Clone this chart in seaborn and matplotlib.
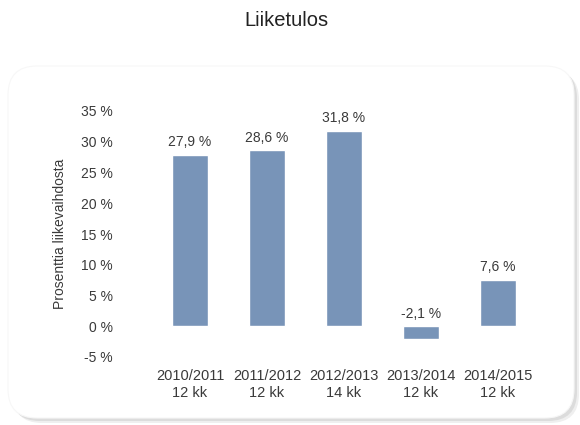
import matplotlib
matplotlib.use('Agg')
import matplotlib.pyplot as plt
import seaborn as sns
import pandas as pd
from matplotlib.patches import FancyBboxPatch

sns.set_style('white')
plt.rcParams['font.family'] = ['Liberation Sans', 'DejaVu Sans']

# data
kaudet = ['2010/2011\n12 kk', '2011/2012\n12 kk', '2012/2013\n14 kk',
          '2013/2014\n12 kk', '2014/2015\n12 kk']
liiketulos = [27.9, 28.6, 31.8, -2.1, 7.6]
arvot_teksti = ['27,9 %', '28,6 %', '31,8 %', '-2,1 %', '7,6 %']
y_ticks = [-5, 0, 5, 10, 15, 20, 25, 30, 35]

df = pd.DataFrame({'kausi': kaudet, 'arvo': liiketulos})

fig = plt.figure(figsize=(5.8, 4.25), dpi=100)
W, H = 580, 425

# panel with shadow
for dx, dy, c in [(5, 5, '#efefef'), (3, 3, '#dcdcdc')]:
    sh = FancyBboxPatch(((8 + dx) / W, 1 - (418 + dy) / H), 566 / W, 352 / H,
                        boxstyle='round,pad=0,rounding_size=0.05',
                        transform=fig.transFigure, facecolor=c, edgecolor='none',
                        mutation_aspect=W / H, zorder=-3)
    fig.patches.append(sh)
panel = FancyBboxPatch((8 / W, 1 - 418 / H), 566 / W, 352 / H,
                       boxstyle='round,pad=0,rounding_size=0.05',
                       transform=fig.transFigure, facecolor='white',
                       edgecolor='#f7f7f7', linewidth=0.8,
                       mutation_aspect=W / H, zorder=-2)
fig.patches.append(panel)

ax = fig.add_axes([151.5 / W, 1 - 357 / H, 385 / W, 246 / H])
ax.set_zorder(2)
ax.patch.set_alpha(0)

sns.barplot(data=df, x='kausi', y='arvo', color='#7894b8', width=0.47,
            saturation=1, ax=ax)

for i, (v, t) in enumerate(zip(liiketulos, arvot_teksti)):
    ax.annotate(t, (i, max(v, 0)), xytext=(0, 4), textcoords='offset points',
                ha='center', va='bottom', fontsize=10, color='#3a3a3a')

ax.set_ylim(-5, 35)
ax.set_xlim(-0.5, 4.5)
ax.set_yticks(y_ticks)
ax.set_yticklabels([f'{t} %' for t in y_ticks])
ax.tick_params(axis='y', length=0, pad=28, labelsize=10, labelcolor='#3a3a3a')
ax.tick_params(axis='x', length=0, pad=9, labelsize=10.5, labelcolor='#3a3a3a')
ax.set_xlabel('')
ax.set_ylabel('Prosenttia liikevaihdosta', fontsize=10, color='#3a3a3a', labelpad=10)
sns.despine(ax=ax, left=True, bottom=True)

fig.text(286 / W, 1 - 21 / H, 'Liiketulos', ha='center', va='center',
         fontsize=14.5, color='#222222')

fig.savefig('out.png', dpi=100, facecolor='white')
